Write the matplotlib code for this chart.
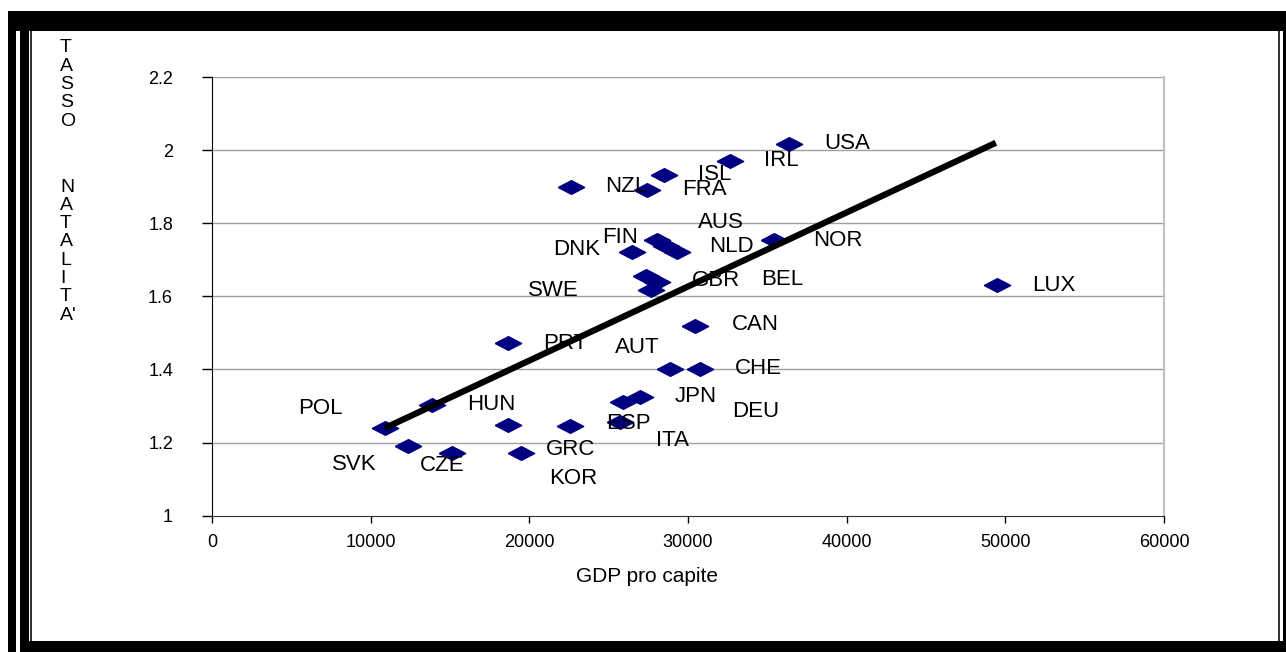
import numpy as np
import matplotlib
matplotlib.use("Agg")
import matplotlib.pyplot as plt
from matplotlib.patches import Rectangle

plt.rcParams['font.family'] = ['Liberation Sans', 'DejaVu Sans']

# ---------------- data ----------------
countries = ['USA', 'IRL', 'ISL', 'NZL', 'FRA', 'NOR', 'LUX', 'DNK',
             'FIN', 'AUS', 'NLD', 'GBR', 'BEL', 'SWE', 'CAN', 'PRT',
             'AUT', 'CHE', 'JPN', 'DEU', 'ESP', 'ITA', 'GRC', 'HUN',
             'POL', 'SVK', 'CZE', 'KOR']
gdp = [36336, 32616, 28456, 22617, 27409, 35435, 49476, 26463,
       28058, 28626, 29319, 27370, 28063, 27685, 30454, 18663,
       28878, 30725, 26987, 25915, 22573, 25726, 18663, 13872,
       10908, 12358, 15132, 19464]
tfr = [2.017, 1.971, 1.932, 1.900, 1.891, 1.754, 1.631, 1.720,
       1.754, 1.737, 1.721, 1.655, 1.639, 1.617, 1.520, 1.473,
       1.401, 1.401, 1.324, 1.312, 1.246, 1.257, 1.248, 1.303,
       1.241, 1.191, 1.172, 1.171]

# where the data labels sit (data units)
label_x = [40043, 35881, 31656, 26107, 31026, 39476, 53033, 22954,
           25728, 32098, 32728, 31782, 35944, 21503, 34242, 22260,
           26800, 34431, 30458, 34242, 26233, 29008, 22575, 17594,
           6810, 8955, 14504, 22765]
label_y = [2.019, 1.972, 1.934, 1.901, 1.893, 1.754, 1.631, 1.727,
           1.762, 1.803, 1.735, 1.642, 1.645, 1.615, 1.522, 1.472,
           1.459, 1.404, 1.325, 1.284, 1.251, 1.207, 1.180, 1.303,
           1.292, 1.141, 1.136, 1.103]

# trend line end points
trend_x = [10900, 49400]
trend_y = [1.24, 2.02]

x_ticks = [0, 10000, 20000, 30000, 40000, 50000, 60000]
y_ticks = [1, 1.2, 1.4, 1.6, 1.8, 2, 2.2]
y_ticklabels = ['1', '1.2', '1.4', '1.6', '1.8', '2', '2.2']

W, H = 1286, 652
fig = plt.figure(figsize=(W / 100, H / 100), dpi=100)


def px_rect(x0, y0, x1, y1, color='black'):
    # rectangle given in pixel coords (origin top-left)
    fig.patches.append(Rectangle((x0 / W, 1 - y1 / H), (x1 - x0) / W, (y1 - y0) / H,
                                 transform=fig.transFigure, color=color, lw=0, zorder=10))


# -------------------------------------------------  FRAME  ------------------------------------------------- #
px_rect(8, 11, 1286, 31)      # top band
px_rect(8, 11, 16, 652)       # left outer bar
px_rect(20, 31, 29, 652)      # left inner bar
px_rect(30, 31, 32, 641, color='#333333')
px_rect(20, 641, 1286, 652)   # bottom band
px_rect(1278, 31, 1280, 641, color='#333333')
px_rect(1283, 31, 1286, 641)

# -------------------------------------------------  SCATTER  ------------------------------------------------- #
ax = fig.add_axes([212 / W, 1 - 515.7 / H, (1164 - 212) / W, (515.7 - 77) / H])
ax.set_xlim(0, 60000)
ax.set_ylim(1, 2.2)

for y in y_ticks[1:]:
    ax.axhline(y, color='#a0a0a0', lw=1.0, zorder=1)

diamond = [(-1, 0), (0, 0.52), (1, 0), (0, -0.52), (-1, 0)]
ax.plot(gdp, tfr, linestyle='none', marker=diamond, markersize=19,
        color='#000080', zorder=3)
ax.plot(trend_x, trend_y, color='black', lw=4.5, solid_capstyle='butt', zorder=4)

for name, lx, ly in zip(countries, label_x, label_y):
    ax.text(lx, ly, name, ha='center', va='center', fontsize=16, zorder=5)

ax.set_xticks(x_ticks)
ax.set_xticklabels([str(v) for v in x_ticks])
ax.set_yticks(y_ticks)
ax.set_yticklabels(y_ticklabels)
ax.tick_params(axis='y', direction='out', length=7, width=1, pad=21, labelsize=13)
ax.tick_params(axis='x', direction='out', length=5, width=1, pad=8, labelsize=13)

ax.spines['top'].set_visible(False)
ax.spines['right'].set_color('#c0c0c0')
ax.spines['right'].set_linewidth(1.5)
ax.spines['left'].set_color('black')
ax.spines['bottom'].set_color('#333333')

ax.set_xlabel('GDP pro capite', fontsize=15)
ax.xaxis.set_label_coords(0.457, -0.118)

# vertical stacked y label
first = 'TASSO'
second = ['N', 'A', 'T', 'A', 'L', 'I', 'T', "A'"]
step = 18.3
for i, ch in enumerate(first):
    fig.text(60 / W, 1 - (48 + i * step) / H, ch, ha='left', va='center', fontsize=14)
for i, ch in enumerate(second):
    fig.text(60 / W, 1 - (187 + i * step) / H, ch, ha='left', va='center', fontsize=14)

plt.savefig('out.png', dpi=100)
plt.close()
